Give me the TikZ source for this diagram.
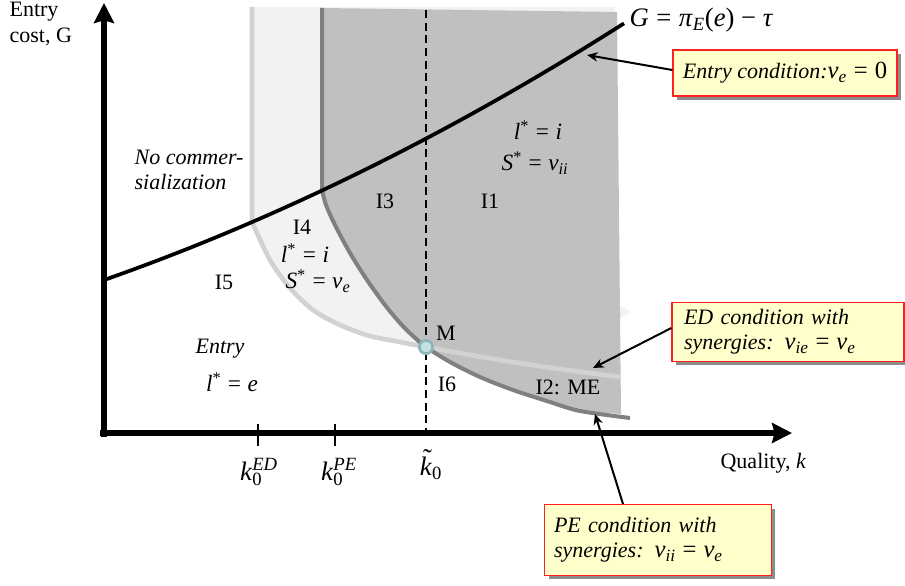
\documentclass[tikz,border=0pt]{standalone}
\usepackage{fontspec}
\setmainfont{Liberation Serif}
\usetikzlibrary{arrows.meta,shadows}
\definecolor{lightreg}{HTML}{F2F2F2}
\definecolor{lightline}{HTML}{D2D2D2}
\definecolor{darkreg}{HTML}{C0C0C0}
\definecolor{darkline}{HTML}{808080}
\definecolor{boxfill}{HTML}{FFFFCC}
\definecolor{boxred}{HTML}{FF2020}
\definecolor{mfill}{HTML}{C2E2E2}
\definecolor{mdraw}{HTML}{8DB4B8}
\newcommand{\mi}[1]{\textit{#1}}
\newcommand{\eq}{\hspace{0.28em}=\hspace{0.28em}}
\newcommand{\mm}[1]{{\fontsize{18.5}{20}\selectfont #1}}
\newcommand{\ktil}{\ooalign{\textit{k}\cr\hidewidth\kern0.12em\raisebox{0.28em}{\char"02DC}\hidewidth\cr}}
\tikzset{
  callout/.style={draw=boxred, fill=boxfill, line width=1pt, inner sep=0pt,
    drop shadow={shadow xshift=3pt, shadow yshift=-3pt, fill=black!45, opacity=1}},
  pointer/.style={line width=1.5pt, -{Stealth[length=8pt,width=7pt]}},
  axis/.style={line width=4.5pt, -{Stealth[length=15pt,width=15pt,inset=2pt]}},
  tick/.style={line width=2.2pt},
  lbl/.style={inner sep=1pt},
  big/.style={font=\fontsize{20}{22}\selectfont},
  math/.style={font=\fontsize{17.5}{20}\selectfont}
}
\begin{document}
\begin{tikzpicture}[x=0.75pt,y=-0.75pt,font=\fontsize{16.5}{19}\selectfont]
\useasboundingbox (0,0) rectangle (905,585);
% light region
\fill[lightreg] (252,7) -- (615,7) -- (615,303) -- (631,312) -- (620,318) -- (620,377)
  -- plot[smooth] coordinates {(560,369) (500,360) (426,347) (400,342) (370,336) (340,325) (313,310) (290,288) (270,260) (252,222)} -- cycle;
% dark region
\fill[darkreg] (322,8) -- (617,12) -- (621,414)
  -- plot[smooth] coordinates {(580,411) (550,402) (513,390) (480,377) (450,362) (426,347) (413,336) (400,323) (385,305) (367,280) (350,253) (335,225) (326,205) (322,190)} -- cycle;
% boundary lines
\draw[lightline, line width=3.5pt] (252,7) -- plot[smooth] coordinates {(252,222) (270,260) (290,288) (313,310) (340,325) (370,336) (400,342) (426,347) (500,360) (560,369) (620,377)};
\draw[darkline, line width=3pt] (322,8) -- plot[smooth] coordinates {(322,190) (326,205) (335,225) (350,253) (367,280) (385,305) (400,323) (413,336) (426,347) (450,362) (480,377) (513,390) (550,402) (580,411) (630,418)};
% entry cost curve
\draw[line width=2.8pt] plot[domain=104:624, samples=80] (\x, {280 - 0.3507*(\x-104) - 0.0002784*(\x-104)*(\x-104)});
% dashed line
\draw[line width=2pt, dash pattern=on 6pt off 3.5pt] (426,10) -- (426,433);
% axes
\coordinate (ytop) at (104,3);
\coordinate (xend) at (792,433);
\draw[axis] (104,437) -- (ytop);
\draw[axis] (100,433) -- (xend);
% ticks
\coordinate (t1a) at (258,424); \coordinate (t1b) at (258,446);
\coordinate (t2a) at (335,424); \coordinate (t2b) at (335,446);
\draw[tick] (t1a) -- (t1b);
\draw[tick] (t2a) -- (t2b);
% marker M
\node[circle, draw=mdraw, fill=mfill, line width=2pt, minimum size=10pt, inner sep=0pt] (M) at (426,347) {};
% axis labels
\node[lbl, anchor=west, align=left] (ylab) at (8,24) {Entry\\cost, G};
\node[lbl, anchor=west] (xlab) at (719,463) {Quality, \mi{k}};
\node[lbl, big] (k1) at (259,472) {\mi{k}\rlap{\textsubscript{0}}\textsuperscript{\mi{ED}}};
\node[lbl, big] (k2) at (339,472) {\mi{k}\rlap{\textsubscript{0}}\textsuperscript{\mi{PE}}};
\node[lbl, big] (k3) at (431,468) {\ktil\textsubscript{0}};
% curve label
\node[lbl, anchor=west, big] (Glab) at (628,20) {\mi{G}\eq\mi{π}\textsubscript{\mi{E}}(\mi{e})\hspace{0.25em}−\hspace{0.25em}\mi{τ}};
% region labels
\node[lbl, anchor=west, align=left] (nocom) at (133,170) {\mi{No commer-}\\\mi{sialization}};
\node[lbl, math] (l1) at (538,130) {\mi{l}\textsuperscript{*}\eq\mi{i}};
\node[lbl, math] (s1) at (535,163) {\mi{S}\textsuperscript{*}\eq\mi{v}\textsubscript{\mi{ii}}};
\node[lbl] (I3) at (385,201) {I3};
\node[lbl] (I1) at (490,201) {I1};
\node[lbl] (I4) at (302,227) {I4};
\node[lbl, math] (l4) at (305,253) {\mi{l}\textsuperscript{*}\eq\mi{i}};
\node[lbl, math] (s4) at (318,281) {\mi{S}\textsuperscript{*}\eq\mi{v}\textsubscript{\mi{e}}};
\node[lbl] (I5) at (224,282) {I5};
\node[lbl] (Mlab) at (446,333) {M};
\node[lbl] (entry) at (220,349) {\mi{Entry}};
\node[lbl, math] (l5) at (232,382) {\mi{l}\textsuperscript{*}\eq\mi{e}};
\node[lbl] (I6) at (447,384) {I6};
\node[lbl] (I2) at (568,387) {I2: ME};
% callouts
\node[callout, minimum width=168pt, minimum height=34.5pt] (b1) at (785,73) {\mi{Entry condition:}\mm{\mi{v}\textsubscript{\mi{e}}\eq 0}};
\node[callout, minimum width=174pt, minimum height=44pt, align=left, text width=156pt] (b2) at (788,332) {\mi{ED condition with}\\\mi{synergies: }\mm{\mi{v}\textsubscript{\mi{ie}}\eq\mi{v}\textsubscript{\mi{e}}}};
\node[callout, minimum width=170pt, minimum height=53pt, align=left, text width=156pt] (b3) at (658,540) {\mi{PE condition with}\\\mi{synergies: }\mm{\mi{v}\textsubscript{\mi{ii}}\eq\mi{v}\textsubscript{\mi{e}}}};
\coordinate (p1) at (587,55);
\coordinate (p2) at (593,368);
\coordinate (p3) at (595,414);
\draw[pointer] (b1.west) ++(0,-3) -- (p1);
\draw[pointer] (b2.west) ++(0,-4) -- (p2);
\draw[pointer] (b3.north) ++(-35,0) -- (p3);
\end{tikzpicture}
\end{document}
